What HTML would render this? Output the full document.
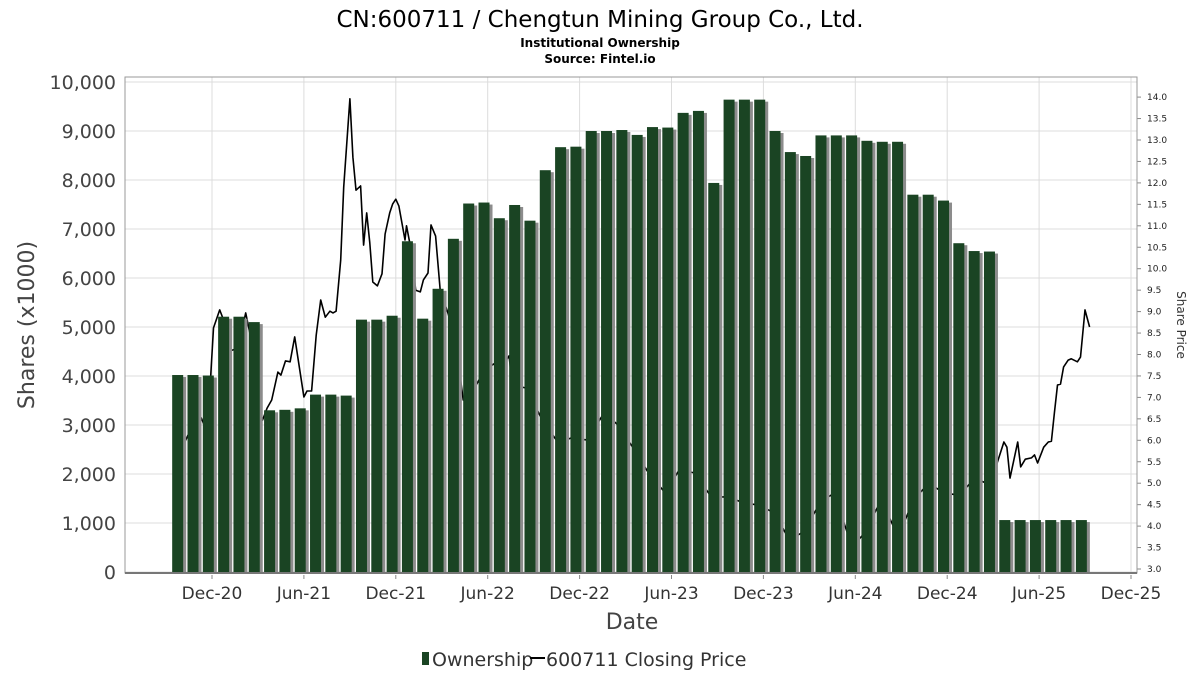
<!DOCTYPE html>
<html><head><meta charset="utf-8"><style>
body{margin:0;background:#fff;font-family:"Liberation Sans","DejaVu Sans",sans-serif}
svg text{font-family:"DejaVu Sans","Liberation Sans",sans-serif}
</style></head><body>
<svg id="chart" width="1200" height="675" xmlns="http://www.w3.org/2000/svg">
<rect width="1200" height="675" fill="#fff"/>
<text x="600" y="27" text-anchor="middle" font-size="23" fill="#000">CN:600711 / Chengtun Mining Group Co., Ltd.</text>
<text x="600" y="47" text-anchor="middle" font-size="12" font-weight="bold" fill="#000">Institutional Ownership</text>
<text x="600" y="63" text-anchor="middle" font-size="12" font-weight="bold" fill="#000">Source: Fintel.io</text>
<g id="grid"></g>
<g id="line"></g>
<g id="bars"></g>
<g id="axes"></g>
<text transform="translate(34,325) rotate(-90)" text-anchor="middle" font-size="22" fill="#444">Shares (x1000)</text>
<text transform="translate(1177,325) rotate(90)" text-anchor="middle" font-size="12" fill="#333">Share Price</text>
<text x="632" y="629" text-anchor="middle" font-size="22" fill="#444">Date</text>
<g>
<rect x="422" y="652" width="7" height="13" fill="#1a4423"/>
<text x="432" y="666" font-size="19" fill="#333">Ownership</text>
<line x1="530" y1="658" x2="545" y2="658" stroke="#000" stroke-width="2"/>
<text x="546" y="666" font-size="19" fill="#333">600711 Closing Price</text>
</g>
</svg>
<script>
const ownership=[4020,4020,4010,5210,5210,5100,3300,3310,3340,3620,3620,3600,5150,5150,5230,6750,5170,5780,6800,7520,7540,7220,7490,7170,8200,8670,8680,9000,9000,9020,8920,9080,9070,9370,9410,7940,9640,9640,9640,9000,8570,8490,8910,8910,8910,8800,8780,8780,7700,7700,7580,6710,6550,6540,1060,1060,1060,1060,1060,1060];
const barStartMonth=-2.6;
const priceMonths=[-1.8,-1.2,-0.7,-0.3,0.1,0.5,0.8,1.0,1.7,2.2,2.5,2.9,3.3,3.6,3.9,4.3,4.5,4.8,5.1,5.4,6.0,6.2,6.5,6.8,7.1,7.4,7.7,7.9,8.1,8.4,8.6,9.0,9.2,9.4,9.7,9.9,10.1,10.3,10.5,10.8,11.1,11.3,11.6,11.8,12.0,12.2,12.6,12.7,13.0,13.3,13.6,13.8,14.1,14.3,14.6,14.9,15.4,15.9,16.4,16.9,17.5,17.9,18.4,18.8,19.4,19.6,20.5,21.5,22.6,23.4,24.5,25.6,26.5,27.6,28.5,29.6,30.5,31.5,32.6,33.7,34.7,35.7,36.7,37.7,38.6,39.7,40.6,41.8,42.6,43.7,44.8,45.8,46.8,47.8,48.8,49.8,50.8,51.7,51.9,52.1,52.6,52.8,53.1,53.5,53.7,53.9,54.3,54.6,54.8,55.0,55.2,55.4,55.6,55.9,56.1,56.5,56.7,57.0,57.3];
const prices=[5.94,6.40,6.52,6.17,8.62,9.04,8.76,8.06,8.15,8.97,8.45,7.06,6.47,6.75,6.94,7.59,7.52,7.85,7.83,8.41,7.01,7.15,7.15,8.45,9.27,8.87,9.01,8.97,9.01,10.2,11.9,13.96,12.6,11.83,11.93,10.55,11.30,10.60,9.69,9.60,9.88,10.81,11.30,11.51,11.62,11.46,10.67,11.0,10.44,9.5,9.46,9.74,9.90,11.02,10.76,9.5,8.97,8.34,6.94,7.06,7.45,7.64,7.78,7.64,7.97,7.29,7.22,6.52,5.94,6.05,6.01,6.64,6.36,5.77,5.24,4.77,5.31,5.24,4.68,4.68,4.54,4.49,4.31,3.68,3.86,4.54,4.77,3.51,3.84,4.61,3.75,4.61,5.00,4.77,4.72,5.12,4.96,5.96,5.84,5.12,5.96,5.38,5.56,5.59,5.66,5.47,5.84,5.96,5.98,6.64,7.29,7.31,7.71,7.87,7.90,7.83,7.94,9.04,8.64];
const xTickLabels=["Dec-20","Jun-21","Dec-21","Jun-22","Dec-22","Jun-23","Dec-23","Jun-24","Dec-24","Jun-25","Dec-25"];
const xTickMonths=[0,6,12,18,24,30,36,42,48,54,60];
const yTicks=[0,1000,2000,3000,4000,5000,6000,7000,8000,9000,10000];
const y2Ticks=[3.0,3.5,4.0,4.5,5.0,5.5,6.0,6.5,7.0,7.5,8.0,8.5,9.0,9.5,10.0,10.5,11.0,11.5,12.0,12.5,13.0,13.5,14.0];

const L=125,R=1137,T=77,B=573;
const NS="http://www.w3.org/2000/svg";
const xS=m=>212+m*(1131-212)/60;
const yS=v=>572-v*0.049;
const y2S=p=>569-(p-3)*42.9;
function mk(tag,attrs,parent){const e=document.createElementNS(NS,tag);for(const k in attrs)e.setAttribute(k,attrs[k]);parent.appendChild(e);return e;}
const grid=document.getElementById('grid'),axes=document.getElementById('axes'),bars=document.getElementById('bars'),line=document.getElementById('line');

yTicks.forEach((v,i)=>{
 const gl=mk('line',{x1:L,x2:R,y1:yS(v),y2:yS(v),stroke:'#dcdcdc','stroke-width':1},grid);
 
 
 const t=mk('text',{x:116,y:yS(v)+7,'text-anchor':'end','font-size':19,fill:'#444'},axes);
 
 
 t.textContent=v.toLocaleString('en-US');
});
xTickMonths.forEach((m,i)=>{
 const gl=mk('line',{x1:xS(m),x2:xS(m),y1:T,y2:B,stroke:'#dcdcdc','stroke-width':1},grid);
 
 
 const tk=mk('line',{x1:xS(m),x2:xS(m),y1:B+2,y2:B+6,stroke:'#888'},axes);
 
 
 const t=mk('text',{x:xS(m),y:599,'text-anchor':'middle','font-size':17,fill:'#333'},axes);
 
 
 t.textContent=xTickLabels[i];
});
y2Ticks.forEach(p=>{
 const t=mk('text',{x:1147,y:y2S(p)+3,'font-size':9,fill:'#222'},axes);
 
 
 t.textContent=p.toFixed(1);
 const tk=mk('line',{x1:R,x2:R+4,y1:y2S(p),y2:y2S(p),stroke:'#888'},axes);
 
 
});
const fr=mk('rect',{x:L,y:T,width:R-L,height:B-T,fill:'none',stroke:'#999','stroke-width':1},axes);


const bl=mk('line',{x1:L,x2:R,y1:B,y2:B,stroke:'#777','stroke-width':2},axes);



let d='';
priceMonths.forEach((m,i)=>{d+=(i?'L':'M')+xS(m).toFixed(1)+','+y2S(prices[i]).toFixed(1);});
const pl=mk('path',{d:d,fill:'none',stroke:'#000','stroke-width':1.6,'stroke-linejoin':'round'},line);



ownership.forEach((v,i)=>{
 const x=xS(barStartMonth+i),y=yS(v);
 const sh=mk('rect',{x:x+3,y:y+2,width:11,height:572-y-2,fill:'#8c8c8c'},bars);
 
 
 const b=mk('rect',{x:x,y:y,width:11,height:572-y,fill:'#1a4423'},bars);
 
 
});
</script>
</body></html>
